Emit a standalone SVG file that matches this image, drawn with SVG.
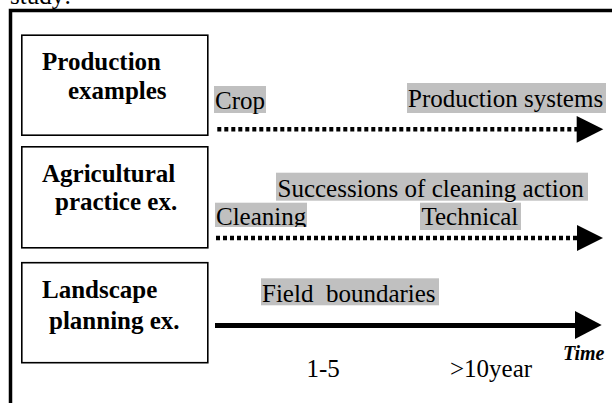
<svg xmlns="http://www.w3.org/2000/svg" width="612" height="403" viewBox="0 0 612 403">
<style>
.box{fill:#fff;stroke:#000;stroke-width:1.6}
.bt{font-family:"Liberation Serif",serif;font-weight:bold;font-size:25px;fill:#000}
.t{font-family:"Liberation Serif",serif;font-size:25px;fill:#000}
.hl{fill:#c0c0c0}
.dot{stroke:#000;stroke-width:4.5;stroke-dasharray:4 3;fill:none}
.sol{stroke:#000;stroke-width:5;fill:none}
.head{fill:#000}
</style>
<defs>
<clipPath id="clipClean"><rect x="200" y="190" width="200" height="37"/></clipPath>
</defs>
<rect width="612" height="403" fill="#fff"/>
<text class="t" x="10" y="4">study:</text>
<rect x="10.5" y="10.5" width="700" height="500" fill="none" stroke="#000" stroke-width="3.5"/>

<g id="node-production">
<rect class="box" x="21.8" y="35.2" width="186" height="100"/>
<text class="bt" x="42" y="70">Production</text>
<text class="bt" x="68" y="99">examples</text>
</g>
<g id="node-agricultural">
<rect class="box" x="21.8" y="146.8" width="186" height="101"/>
<text class="bt" x="42" y="182">Agricultural</text>
<text class="bt" x="55" y="210">practice ex.</text>
</g>
<g id="node-landscape">
<rect class="box" x="21.8" y="262.7" width="186" height="100"/>
<text class="bt" x="42" y="298">Landscape</text>
<text class="bt" x="49" y="329">planning ex.</text>
</g>

<g id="labels">
<rect class="hl" x="214" y="86" width="52" height="27"/>
<text class="t" x="215" y="109">Crop</text>
<rect class="hl" x="407" y="83" width="199" height="30"/>
<text class="t" x="408" y="107">Production systems</text>
<rect class="hl" x="276" y="172.7" width="312" height="28"/>
<text class="t" x="277.5" y="196.5">Successions of cleaning action</text>
<g clip-path="url(#clipClean)">
<rect class="hl" x="215" y="202.7" width="92" height="30"/>
<text class="t" x="216" y="224.5">Cleaning</text>
</g>
<rect class="hl" x="420" y="202.7" width="101" height="27.3"/>
<text class="t" x="421.5" y="225">Technical</text>
<rect class="hl" x="261" y="278.3" width="178" height="27"/>
<text class="t" x="262" y="301.5" xml:space="preserve">Field  boundaries</text>
<text class="t" x="306.5" y="377">1-5</text>
<text class="t" x="450" y="377">&gt;10year</text>
<text x="563" y="360" font-family="Liberation Serif, serif" font-size="20" font-weight="bold" font-style="italic">Time</text>
</g>

<g id="connectors">
<line class="dot" x1="217.3" y1="129.3" x2="577" y2="129.3"/>
<polygon class="head" points="576.7,116 603.3,129.3 576.7,142.7"/>
<line class="dot" x1="216" y1="238" x2="577" y2="238"/>
<polygon class="head" points="577,225 603,238 577,251"/>
<line class="sol" x1="215" y1="325.5" x2="578" y2="325.5"/>
<polygon class="head" points="575,311 601.7,325 575,339"/>
</g>
</svg>
